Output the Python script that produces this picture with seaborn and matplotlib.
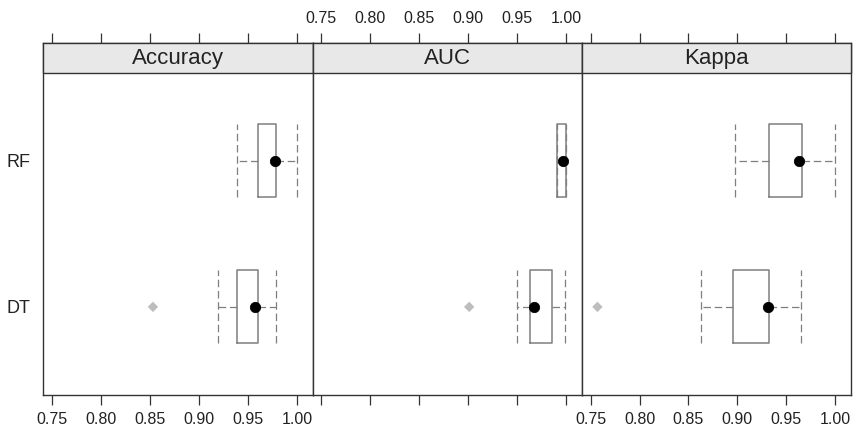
import numpy as np
import pandas as pd
import matplotlib.pyplot as plt
import seaborn as sns
from matplotlib.patches import Rectangle

# Resumen de los remuestreos, orden de modelos: DT, RF
metrics = ["Accuracy", "AUC", "Kappa"]
models = ["DT", "RF"]
metric_col = ["Accuracy", "Accuracy", "AUC", "AUC", "Kappa", "Kappa"]
model_col = ["DT", "RF", "DT", "RF", "DT", "RF"]
whisker_low = [0.919, 0.939, 0.950, 0.991, 0.863, 0.898]
q1 = [0.939, 0.960, 0.963, 0.991, 0.895, 0.932]
median = [0.957, 0.978, 0.967, 0.997, 0.931, 0.963]
q3 = [0.960, 0.979, 0.986, 1.000, 0.932, 0.966]
whisker_high = [0.979, 1.000, 0.999, 1.000, 0.965, 1.000]

# valores atípicos
out_metric = ["Accuracy", "AUC", "Kappa"]
out_model = ["DT", "DT", "DT"]
out_value = [0.853, 0.901, 0.757]

x_ticks = [0.75, 0.80, 0.85, 0.90, 0.95, 1.00]

df = pd.DataFrame({"metric": metric_col, "model": model_col,
                   "whislo": whisker_low, "q1": q1, "med": median,
                   "q3": q3, "whishi": whisker_high})
df["pos"] = df["model"].map({m: i + 1 for i, m in enumerate(models)})
df_out = pd.DataFrame({"metric": out_metric, "model": out_model, "value": out_value})
df_out["pos"] = df_out["model"].map({m: i + 1 for i, m in enumerate(models)})

frame = "#333333"
box_col = "#7f7f7f"

sns.set_style("white")
plt.rcParams["font.family"] = ["Liberation Sans", "DejaVu Sans"]


def draw_bw(data, **kwargs):
    ax = plt.gca()
    stats = [dict(whislo=r.whislo, q1=r.q1, med=r.med, q3=r.q3, whishi=r.whishi, fliers=[])
             for r in data.itertuples()]
    dash = dict(color=box_col, lw=0.9, linestyle=(0, (6, 3)))
    ax.bxp(stats, positions=data["pos"].tolist(), widths=0.5, capwidths=0.5,
           orientation="horizontal", showfliers=False, patch_artist=False,
           boxprops=dict(color=box_col, lw=1.1), whiskerprops=dash, capprops=dash,
           medianprops=dict(linestyle="none"), manage_ticks=False)
    sns.scatterplot(data=data, x="med", y="pos", ax=ax, color="black", s=55,
                    edgecolor="black", zorder=5, legend=False)
    sub = df_out[df_out["metric"] == data["metric"].iloc[0]]
    sns.scatterplot(data=sub, x="value", y="pos", ax=ax, color="#bdbdbd", s=28,
                    marker="D", edgecolor="none", zorder=4, legend=False)


g = sns.FacetGrid(df, col="metric", col_order=metrics, despine=False,
                  height=4.4, aspect=0.65, sharex=True, sharey=True)
g.map_dataframe(draw_bw)
g.set_titles("")
g.set_axis_labels("", "")

fig = g.figure
fig.set_size_inches(8.56, 4.40)
fig.subplots_adjust(left=43.3 / 856, right=851 / 856, top=1 - 43.3 / 440,
                    bottom=1 - 394.7 / 440, wspace=0)

# región de datos 0.4..2.6, tira superior de 29.4 px
panel_px = 394.7 - 72.7
strip_units = 2.2 * 29.4 / panel_px
y_lo, y_hi = 0.4, 2.6 + strip_units

for i, (ax, m) in enumerate(zip(g.axes.flat, metrics)):
    ax.set_xlim(0.741, 1.016)
    ax.set_ylim(y_lo, y_hi)
    for s in ax.spines.values():
        s.set_color(frame)
        s.set_linewidth(1.0)
    ax.add_patch(Rectangle((0, 2.6), 1, strip_units, transform=ax.get_yaxis_transform(),
                           facecolor="#e8e8e8", edgecolor=frame, lw=1.0, zorder=6,
                           clip_on=False))
    ax.text(0.5, 2.6 + strip_units / 2, m, transform=ax.get_yaxis_transform(),
            ha="center", va="center", fontsize=16, color="#222222", zorder=7)
    ax.set_xticks(x_ticks)
    ax.set_xticklabels([f"{t:.2f}" for t in x_ticks])
    ax.tick_params(axis="x", which="both", top=True, bottom=True, direction="out",
                   length=7.5, width=0.9, color=frame, labelsize=11.5,
                   labelcolor="#222222",
                   labelbottom=(i != 1), labeltop=(i == 1), pad=5)
    ax.set_yticks([1, 2])
    if i == 0:
        ax.set_yticklabels(models)
        ax.tick_params(axis="y", length=0, labelsize=13, labelcolor="#222222", pad=9)
    else:
        ax.tick_params(axis="y", length=0, labelleft=False)
    ax.set_xlabel("")
    ax.set_ylabel("")

fig.savefig("out.png", dpi=100)
